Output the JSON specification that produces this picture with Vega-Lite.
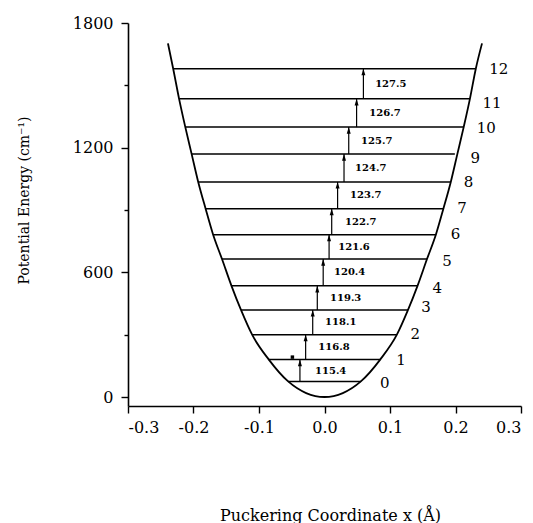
{
  "$schema": "https://vega.github.io/schema/vega-lite/v6.json",
  "width": 393,
  "height": 383,
  "autosize": "none",
  "padding": {"left": 128, "top": 23, "right": 12, "bottom": 117},
  "background": "white",
  "config": {
    "view": {"stroke": null},
    "font": "DejaVu Serif",
    "axis": {
      "labelFont": "DejaVu Serif",
      "titleFont": "DejaVu Serif",
      "labelColor": "black",
      "titleColor": "black",
      "domainColor": "black",
      "tickColor": "black",
      "domainWidth": 1.6,
      "tickWidth": 1.4,
      "grid": false,
      "titleFontWeight": "normal",
      "labelFontSize": 16
    }
  },
  "datasets": {
    "curve": [
      {"x": -0.239, "V": 1702}, {"x": -0.231, "V": 1580}, {"x": -0.222, "V": 1435},
      {"x": -0.2125, "V": 1299}, {"x": -0.2028, "V": 1169}, {"x": -0.1928, "V": 1035},
      {"x": -0.1815, "V": 906}, {"x": -0.170, "V": 781}, {"x": -0.1565, "V": 664},
      {"x": -0.142, "V": 535}, {"x": -0.1275, "V": 419}, {"x": -0.1105, "V": 300},
      {"x": -0.085, "V": 180}, {"x": -0.0555, "V": 75}, {"x": -0.028, "V": 19},
      {"x": 0, "V": 0},
      {"x": 0.028, "V": 19}, {"x": 0.0555, "V": 75}, {"x": 0.085, "V": 180},
      {"x": 0.1105, "V": 300}, {"x": 0.1275, "V": 419}, {"x": 0.142, "V": 535},
      {"x": 0.1565, "V": 664}, {"x": 0.170, "V": 781}, {"x": 0.1815, "V": 906},
      {"x": 0.1928, "V": 1035}, {"x": 0.2028, "V": 1169}, {"x": 0.2125, "V": 1299},
      {"x": 0.222, "V": 1435}, {"x": 0.231, "V": 1580}, {"x": 0.2405, "V": 1702}
    ],
    "levels": [
      {"n": "0", "E": 75, "xl": -0.0555, "xr": 0.0555, "nx": 0.092, "ny": 66},
      {"n": "1", "E": 180, "xl": -0.085, "xr": 0.085, "nx": 0.117, "ny": 178},
      {"n": "2", "E": 300, "xl": -0.1105, "xr": 0.1105, "nx": 0.1385, "ny": 303},
      {"n": "3", "E": 419, "xl": -0.1275, "xr": 0.1275, "nx": 0.155, "ny": 432},
      {"n": "4", "E": 535, "xl": -0.142, "xr": 0.142, "nx": 0.172, "ny": 526},
      {"n": "5", "E": 664, "xl": -0.1565, "xr": 0.1565, "nx": 0.187, "ny": 654},
      {"n": "6", "E": 781, "xl": -0.170, "xr": 0.170, "nx": 0.200, "ny": 784},
      {"n": "7", "E": 906, "xl": -0.1815, "xr": 0.1815, "nx": 0.210, "ny": 911},
      {"n": "8", "E": 1035, "xl": -0.1928, "xr": 0.1928, "nx": 0.220, "ny": 1036},
      {"n": "9", "E": 1169, "xl": -0.2028, "xr": 0.199, "nx": 0.2303, "ny": 1149},
      {"n": "10", "E": 1299, "xl": -0.2125, "xr": 0.2125, "nx": 0.2471, "ny": 1293},
      {"n": "11", "E": 1435, "xl": -0.222, "xr": 0.222, "nx": 0.2558, "ny": 1413},
      {"n": "12", "E": 1580, "xl": -0.231, "xr": 0.231, "nx": 0.266, "ny": 1577}
    ],
    "arrows": [
      {"ax": -0.0375, "lo": 75, "hi": 180, "mid": 127.5, "lx": -0.0145, "label": "115.4"},
      {"ax": -0.0288, "lo": 180, "hi": 300, "mid": 240, "lx": -0.0095, "label": "116.8"},
      {"ax": -0.018, "lo": 300, "hi": 419, "mid": 359.5, "lx": 0.0008, "label": "118.1"},
      {"ax": -0.011, "lo": 419, "hi": 535, "mid": 477, "lx": 0.0084, "label": "119.3"},
      {"ax": -0.002, "lo": 535, "hi": 664, "mid": 599.5, "lx": 0.0145, "label": "120.4"},
      {"ax": 0.007, "lo": 664, "hi": 781, "mid": 722.5, "lx": 0.0211, "label": "121.6"},
      {"ax": 0.011, "lo": 781, "hi": 906, "mid": 843.5, "lx": 0.0314, "label": "122.7"},
      {"ax": 0.020, "lo": 906, "hi": 1035, "mid": 970.5, "lx": 0.039, "label": "123.7"},
      {"ax": 0.0298, "lo": 1035, "hi": 1169, "mid": 1102, "lx": 0.0467, "label": "124.7"},
      {"ax": 0.037, "lo": 1169, "hi": 1299, "mid": 1234, "lx": 0.0558, "label": "125.7"},
      {"ax": 0.049, "lo": 1299, "hi": 1435, "mid": 1367, "lx": 0.0685, "label": "126.7"},
      {"ax": 0.0594, "lo": 1435, "hi": 1580, "mid": 1507.5, "lx": 0.0773, "label": "127.5"}
    ],
    "dot": [{"x": -0.049, "V": 192}]
  },
  "layer": [
    {
      "data": {"name": "curve"},
      "mark": {"type": "line", "color": "black", "strokeWidth": 1.8, "interpolate": "monotone"},
      "encoding": {
        "x": {
          "field": "x", "type": "quantitative",
          "scale": {"domain": [-0.3, 0.3], "nice": false, "zero": false},
          "axis": {
            "values": [-0.3, -0.2, -0.1, 0, 0.1, 0.2, 0.3],
            "labelExpr": "datum.value < 0 ? '-' + format(-datum.value, '.1f') : format(datum.value, '.1f')",
            "tickSize": 7, "labelPadding": 6,
            "title": "Puckering Coordinate x (Å)",
            "titleFontSize": 16, "titleX": 202, "titleY": 114,
            "titleBaseline": "alphabetic", "titleAlign": "center", "titleAnchor": null
          }
        },
        "y": {
          "field": "V", "type": "quantitative",
          "scale": {"domain": [-43.3, 1800], "nice": false, "zero": false},
          "axis": {
            "values": [0, 300, 600, 900, 1200, 1500, 1800],
            "labelExpr": "datum.value % 600 === 0 ? format(datum.value, 'd') : ''",
            "tickSize": {"condition": {"test": "datum.value % 600 !== 0", "value": 4}, "value": 7},
            "labelPadding": 8,
            "title": "Potential Energy (cm⁻¹)",
            "titleFontSize": 14, "titleAngle": 270,
            "titleX": -103.5, "titleY": 177,
            "titleBaseline": "middle", "titleAlign": "center", "titleAnchor": null
          }
        }
      }
    },
    {
      "data": {"name": "levels"},
      "mark": {"type": "rule", "color": "black", "strokeWidth": 1.5},
      "encoding": {
        "x": {"field": "xl", "type": "quantitative"},
        "x2": {"field": "xr"},
        "y": {"field": "E", "type": "quantitative"}
      }
    },
    {
      "data": {"name": "arrows"},
      "mark": {"type": "rule", "color": "black", "strokeWidth": 1.2},
      "encoding": {
        "x": {"field": "ax", "type": "quantitative"},
        "y": {"field": "lo", "type": "quantitative"},
        "y2": {"field": "hi"}
      }
    },
    {
      "data": {"name": "arrows"},
      "mark": {"type": "point", "filled": true, "color": "black", "opacity": 1, "shape": "M0,-1L0.6,1L-0.6,1Z", "size": 44, "yOffset": 3.3},
      "encoding": {
        "x": {"field": "ax", "type": "quantitative"},
        "y": {"field": "hi", "type": "quantitative"}
      }
    },
    {
      "data": {"name": "arrows"},
      "mark": {"type": "text", "align": "left", "baseline": "middle", "font": "DejaVu Serif", "fontSize": 10, "fontWeight": "bold", "color": "black"},
      "encoding": {
        "x": {"field": "lx", "type": "quantitative"},
        "y": {"field": "mid", "type": "quantitative"},
        "text": {"field": "label"}
      }
    },
    {
      "data": {"name": "levels"},
      "mark": {"type": "text", "align": "center", "baseline": "middle", "font": "DejaVu Serif", "fontSize": 15, "color": "black"},
      "encoding": {
        "x": {"field": "nx", "type": "quantitative"},
        "y": {"field": "ny", "type": "quantitative"},
        "text": {"field": "n"}
      }
    },
    {
      "data": {"name": "dot"},
      "mark": {"type": "point", "filled": true, "shape": "square", "color": "black", "opacity": 1, "size": 12},
      "encoding": {
        "x": {"field": "x", "type": "quantitative"},
        "y": {"field": "V", "type": "quantitative"}
      }
    }
  ]
}
